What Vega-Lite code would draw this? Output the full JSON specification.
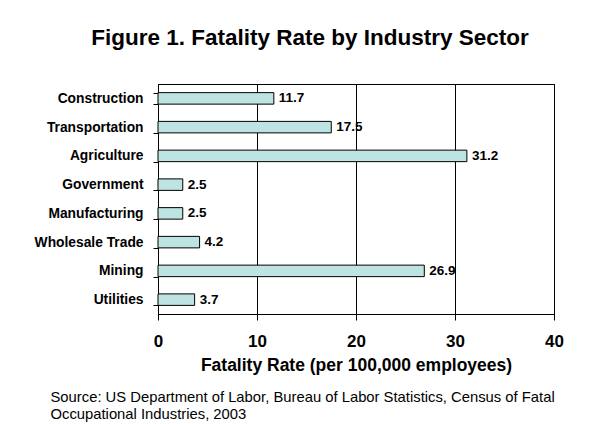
{
  "$schema": "https://vega.github.io/schema/vega-lite/v6.json",
  "width": 396,
  "height": 230,
  "autosize": {"type": "none"},
  "padding": {"left": 158, "top": 84, "right": 53, "bottom": 110},
  "background": "white",
  "title": {
    "text": "Figure 1. Fatality Rate by Industry Sector",
    "font": "Liberation Sans",
    "fontSize": 22.5,
    "fontWeight": "bold",
    "color": "black",
    "anchor": "middle",
    "dx": -46,
    "offset": 28
  },
  "data": {
    "values": [
      {"sector": "Construction", "rate": 11.7},
      {"sector": "Transportation", "rate": 17.5},
      {"sector": "Agriculture", "rate": 31.2},
      {"sector": "Government", "rate": 2.5},
      {"sector": "Manufacturing", "rate": 2.5},
      {"sector": "Wholesale Trade", "rate": 4.2},
      {"sector": "Mining", "rate": 26.9},
      {"sector": "Utilities", "rate": 3.7}
    ]
  },
  "config": {
    "font": "Liberation Sans",
    "view": {"stroke": "black", "strokeWidth": 1}
  },
  "layer": [
    {
      "mark": {"type": "bar", "fill": "#BEE3E3", "stroke": "black", "strokeWidth": 1},
      "encoding": {
        "y": {
          "field": "sector",
          "type": "nominal",
          "sort": null,
          "scale": {"paddingInner": 0.6, "paddingOuter": 0.3},
          "axis": {
            "title": null,
            "tickBand": "extent",
            "tickSize": 5,
            "tickColor": "black",
            "domainColor": "black",
            "labelFont": "Liberation Sans",
            "labelFontSize": 13.8,
            "labelFontWeight": "bold",
            "labelColor": "black",
            "labelPadding": 10
          }
        },
        "x": {
          "field": "rate",
          "type": "quantitative",
          "scale": {"domain": [0, 40], "nice": false},
          "axis": {
            "values": [0, 10, 20, 30, 40],
            "grid": true,
            "gridColor": "black",
            "gridOpacity": 1,
            "tickSize": 6,
            "tickColor": "black",
            "domainColor": "black",
            "labelFlush": false,
            "labelFont": "Liberation Sans",
            "labelFontSize": 17,
            "labelFontWeight": "bold",
            "labelColor": "black",
            "labelBaseline": "alphabetic",
            "labelPadding": 26,
            "title": "Fatality Rate (per 100,000 employees)",
            "titleFont": "Liberation Sans",
            "titleFontSize": 17.5,
            "titleFontWeight": "bold",
            "titleColor": "black",
            "titleBaseline": "alphabetic",
            "titleY": 56
          }
        }
      }
    },
    {
      "mark": {"type": "text", "align": "left", "baseline": "middle", "dx": 5, "font": "Liberation Sans", "fontSize": 13.5, "fontWeight": "bold", "color": "black"},
      "encoding": {
        "y": {"field": "sector", "type": "nominal", "sort": null},
        "x": {
          "field": "rate",
          "type": "quantitative",
          "axis": {
            "orient": "bottom",
            "domain": false,
            "ticks": false,
            "labels": false,
            "grid": false,
            "title": ["Source: US Department of Labor, Bureau of Labor Statistics, Census of Fatal", "Occupational Industries, 2003"],
            "titleFont": "Liberation Sans",
            "titleFontSize": 14.8,
            "titleFontWeight": "normal",
            "titleColor": "black",
            "titleAlign": "left",
            "titleAnchor": "start",
            "titleBaseline": "alphabetic",
            "titleX": -108,
            "titleY": 87,
            "titleLineHeight": 17
          }
        },
        "text": {"field": "rate", "type": "quantitative", "format": ".1f"}
      }
    }
  ],
  "resolve": {"axis": {"x": "independent"}}
}
